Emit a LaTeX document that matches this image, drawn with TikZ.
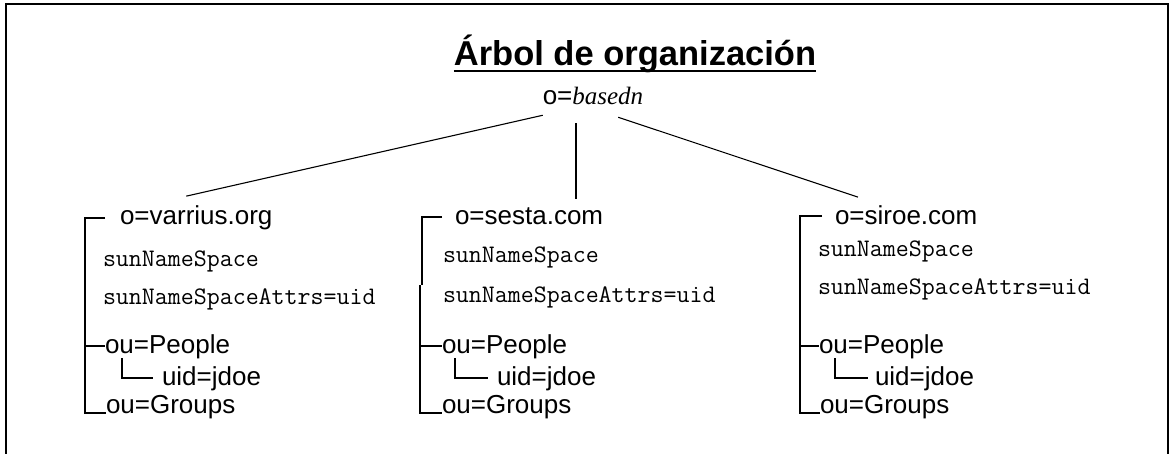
\documentclass[tikz,border=0pt]{standalone}
\usepackage{fontspec}
\setmainfont{Liberation Serif}
\setsansfont{Liberation Sans}
\usetikzlibrary{positioning,calc}

\begin{document}
\begin{tikzpicture}[x=1pt,y=-1pt]
    \tikzstyle{every node}=[inner sep=0,outer sep=0]
    \tikzstyle{title}=[font=\sffamily\bfseries\fontsize{34.5}{40}\selectfont]
    \tikzstyle{entry}=[anchor=base west,font=\sffamily\fontsize{26}{30}\selectfont]
    \tikzstyle{attr}=[anchor=base west,font=\ttfamily\fontsize{25.2}{29}\selectfont]
    \tikzstyle{branch}=[line width=1.1pt]
    \tikzstyle{stem}=[line width=2pt]
    \tikzstyle{bracket}=[line width=2pt]
    \clip (0,0) rectangle (1173,454);
    \useasboundingbox (0,0) rectangle (1173,454);
    \draw[line width=2.8pt] (6,470) -- (6,4) -- (1168,4) -- (1168,470);

    % root of the tree
    \node[title,anchor=base] (title) at (635,66) {Árbol de organización};
    \draw[line width=2pt] ([yshift=-5pt]title.base west) -- ([yshift=-5pt]title.base east);
    \node[entry,anchor=base] (root) at (593,105) {o=\rmfamily\itshape\fontsize{25}{30}\selectfont basedn};

    % o=varrius.org
    \node[entry] (o1) at (120,225) {o=varrius.org};
    \node[attr] (n1) at (103,267) {sunNameSpace};
    \node[attr] (a1) at (103,305) {sunNameSpaceAttrs=uid};
    \node[entry] (p1) at (105,353) {ou=People};
    \node[entry] (u1) at (162,385) {uid=jdoe};
    \node[entry] (g1) at (106,413) {ou=Groups};

    % o=sesta.com
    \node[entry] (o2) at (455,225) {o=sesta.com};
    \node[attr] (n2) at (443,263) {sunNameSpace};
    \node[attr] (a2) at (443,303) {sunNameSpaceAttrs=uid};
    \node[entry] (p2) at (442,353) {ou=People};
    \node[entry] (u2) at (497,385) {uid=jdoe};
    \node[entry] (g2) at (442,413) {ou=Groups};

    % o=siroe.com
    \node[entry] (o3) at (835,225) {o=siroe.com};
    \node[attr] (n3) at (818,257) {sunNameSpace};
    \node[attr] (a3) at (818,295) {sunNameSpaceAttrs=uid};
    \node[entry] (p3) at (819,353) {ou=People};
    \node[entry] (u3) at (875,385) {uid=jdoe};
    \node[entry] (g3) at (820,413) {ou=Groups};

    \coordinate (cv) at ([xshift=33pt]root.south west);
    \draw[branch] ([yshift=-10pt]root.south west) -- ([xshift=-10pt,yshift=10pt]o1.north);
    \draw[stem,shorten <=18pt,shorten >=9pt] (cv) -- (cv |- o2.north);
    \draw[branch] ([xshift=-25pt,yshift=-12pt]root.south east) -- ([xshift=23pt,yshift=9pt]o3.north west);

    % brackets
    \coordinate (b1) at ([xshift=-35pt]o1.west);
    \coordinate (c1) at ([xshift=17pt]p1.south west);
    \draw[bracket] ([xshift=-15pt]o1.west) -- (b1) -- (b1 |- g1.base) -- (g1.base west);
    \draw[bracket] (b1 |- p1.west) -- (p1.west);
    \draw[bracket] (c1) -- (c1 |- u1.west) -- ([xshift=-9pt]u1.west);

    \coordinate (b2) at ([xshift=-33pt]o2.west);
    \coordinate (k2) at (420,285);
    \coordinate (c2) at ([xshift=13pt]p2.south west);
    \draw[bracket] ([xshift=-13pt]o2.west) -- (b2) -- ++(0,68);
    \draw[bracket] (k2) -- (k2 |- g2.base) -- (g2.base west);
    \draw[bracket] (k2 |- p2.west) -- (p2.west);
    \draw[bracket] (c2) -- (c2 |- u2.west) -- ([xshift=-9pt]u2.west);

    \coordinate (b3) at ([xshift=-35pt]o3.west);
    \coordinate (c3) at ([xshift=16pt]p3.south west);
    \draw[bracket] ([xshift=-13pt]o3.west) -- (b3) -- (b3 |- g3.base) -- (g3.base west);
    \draw[bracket] (b3 |- p3.west) -- (p3.west);
    \draw[bracket] (c3) -- (c3 |- u3.west) -- ([xshift=-7pt]u3.west);
\end{tikzpicture}
\end{document}
